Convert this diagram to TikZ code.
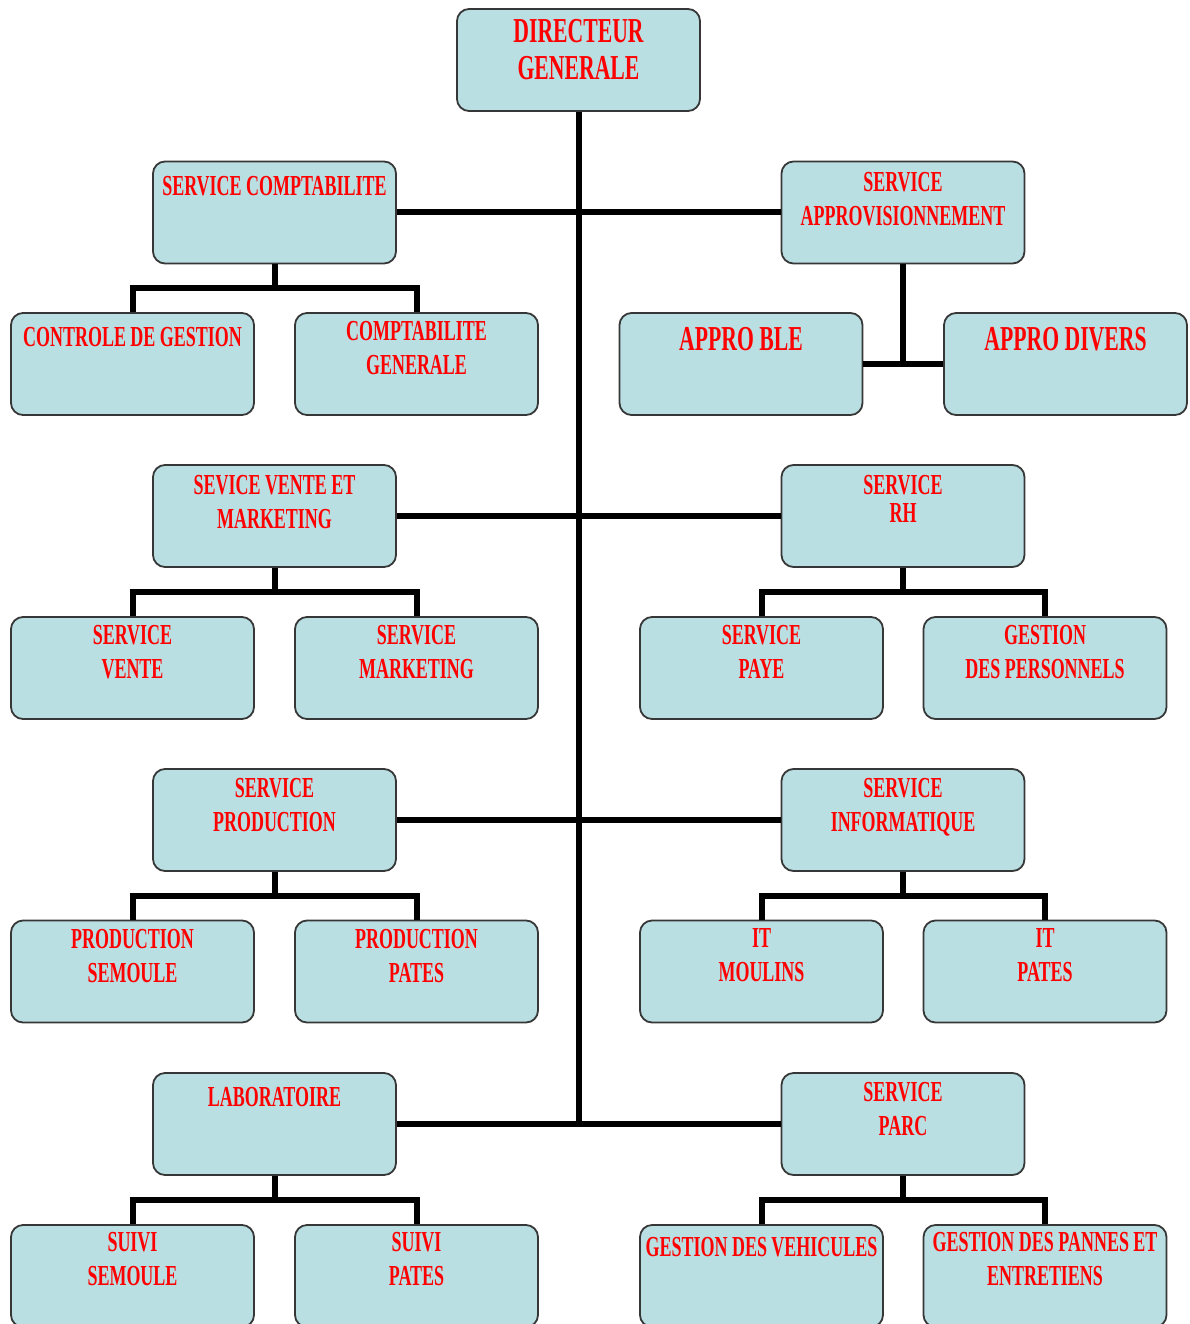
\documentclass[tikz,border=0pt]{standalone}
\usepackage{fontspec}
\newfontfamily\orgfont[FakeStretch=0.62]{Liberation Serif}
\usetikzlibrary{positioning}
\definecolor{boxblue}{RGB}{185,223,227}
\definecolor{boxline}{RGB}{55,55,55}
\definecolor{labelred}{RGB}{255,0,0}

\begin{document}
\begin{tikzpicture}[x=1pt,y=-1pt,
    unit/.style={draw=boxline,line width=1.8pt,fill=boxblue,rounded corners=12pt,
      minimum width=243pt,minimum height=102pt,inner sep=0pt},
    unittext/.style={text=labelred,font=\orgfont\bfseries\fontsize{29}{34}\selectfont,
      align=center,inner sep=0pt},
    bigtext/.style={unittext,font=\orgfont\bfseries\fontsize{35}{37}\selectfont},
    link/.style={line width=6pt}]

    \fill[white] (0,0) rectangle (1190,1324);
    \useasboundingbox (0,0) rectangle (1190,1324);

    % direction
    \node[unit] (dg) at (578.5,60) {};
    \node[bigtext,below=11pt of dg.north] (dg-t) {DIRECTEUR\\GENERALE};

    % services
    \node[unit] (compta) at (274.5,212.5) {};
    \node[unit] (appro) at (903,212.5) {};
    \node[unit] (vente) at (274.5,516) {};
    \node[unit] (rh) at (903,516) {};
    \node[unit] (prod) at (274.5,820) {};
    \node[unit] (info) at (903,820) {};
    \node[unit] (labo) at (274.5,1124) {};
    \node[unit] (parc) at (903,1124) {};

    \node[unittext,below=16pt of compta.north] (compta-t) {SERVICE COMPTABILITE};
    \node[unittext,below=11pt of appro.north] (appro-t) {SERVICE\\APPROVISIONNEMENT};
    \node[unittext,below=11pt of vente.north] (vente-t) {SEVICE VENTE ET\\MARKETING};
    \node[unittext,below=11pt of rh.north] (rh-t) {SERVICE\\[-6pt]RH};
    \node[unittext,below=10pt of prod.north] (prod-t) {SERVICE\\PRODUCTION};
    \node[unittext,below=10pt of info.north] (info-t) {SERVICE\\INFORMATIQUE};
    \node[unittext,below=15pt of labo.north] (labo-t) {LABORATOIRE};
    \node[unittext,below=10pt of parc.north] (parc-t) {SERVICE\\PARC};

    % sous-services
    \node[unit] (ctrl) at (132.5,364) {};
    \node[unit] (cgen) at (416.5,364) {};
    \node[unit] (ble) at (741,364) {};
    \node[unit] (divers) at (1065.5,364) {};
    \node[unit] (svente) at (132.5,668) {};
    \node[unit] (smark) at (416.5,668) {};
    \node[unit] (paye) at (761.5,668) {};
    \node[unit] (gpers) at (1045,668) {};
    \node[unit] (psem) at (132.5,971.5) {};
    \node[unit] (ppat) at (416.5,971.5) {};
    \node[unit] (itmoul) at (761.5,971.5) {};
    \node[unit] (itpat) at (1045,971.5) {};
    \node[unit] (ssem) at (132.5,1276) {};
    \node[unit] (spat) at (416.5,1276) {};
    \node[unit] (gveh) at (761.5,1276) {};
    \node[unit] (gpan) at (1045,1276) {};

    \node[unittext,below=15pt of ctrl.north] (ctrl-t) {CONTROLE DE GESTION};
    \node[unittext,below=9pt of cgen.north] (cgen-t) {COMPTABILITE\\GENERALE};
    \node[bigtext,below=15pt of ble.north] (ble-t) {APPRO BLE};
    \node[bigtext,below=15pt of divers.north] (divers-t) {APPRO DIVERS};
    \node[unittext,below=9pt of svente.north] (svente-t) {SERVICE\\VENTE};
    \node[unittext,below=9pt of smark.north] (smark-t) {SERVICE\\MARKETING};
    \node[unittext,below=9pt of paye.north] (paye-t) {SERVICE\\PAYE};
    \node[unittext,below=9pt of gpers.north] (gpers-t) {GESTION\\DES PERSONNELS};
    \node[unittext,below=9pt of psem.north] (psem-t) {PRODUCTION\\SEMOULE};
    \node[unittext,below=9pt of ppat.north] (ppat-t) {PRODUCTION\\PATES};
    \node[unittext,below=9pt of itmoul.north] (itmoul-t) {IT\\MOULINS};
    \node[unittext,below=9pt of itpat.north] (itpat-t) {IT\\PATES};
    \node[unittext,below=8pt of ssem.north] (ssem-t) {SUIVI\\SEMOULE};
    \node[unittext,below=8pt of spat.north] (spat-t) {SUIVI\\PATES};
    \node[unittext,below=13pt of gveh.north] (gveh-t) {GESTION DES VEHICULES};
    \node[unittext,below=8pt of gpan.north] (gpan-t) {GESTION DES PANNES ET\\ENTRETIENS};

    % liaisons
    \draw[link] (dg.south) -- (dg.south |- labo.east);
    \draw[link] (compta.east) -- (appro.west);
    \draw[link] (vente.east) -- (rh.west);
    \draw[link] (prod.east) -- (info.west);
    \draw[link] (labo.east) -- (parc.west);

    \draw[link] (appro.south) -- (appro.south |- ble.east);
    \draw[link] (ble.east) -- (divers.west);

    \draw[link] (compta.south) -- ++(0,24) -| (ctrl.north);
    \draw[link] (compta.south) ++(0,24) -| (cgen.north);
    \draw[link] (vente.south) -- ++(0,24) -| (svente.north);
    \draw[link] (vente.south) ++(0,24) -| (smark.north);
    \draw[link] (rh.south) -- ++(0,24) -| (paye.north);
    \draw[link] (rh.south) ++(0,24) -| (gpers.north);
    \draw[link] (prod.south) -- ++(0,24) -| (psem.north);
    \draw[link] (prod.south) ++(0,24) -| (ppat.north);
    \draw[link] (info.south) -- ++(0,24) -| (itmoul.north);
    \draw[link] (info.south) ++(0,24) -| (itpat.north);
    \draw[link] (labo.south) -- ++(0,24) -| (ssem.north);
    \draw[link] (labo.south) ++(0,24) -| (spat.north);
    \draw[link] (parc.south) -- ++(0,24) -| (gveh.north);
    \draw[link] (parc.south) ++(0,24) -| (gpan.north);
  \end{tikzpicture}
\end{document}
